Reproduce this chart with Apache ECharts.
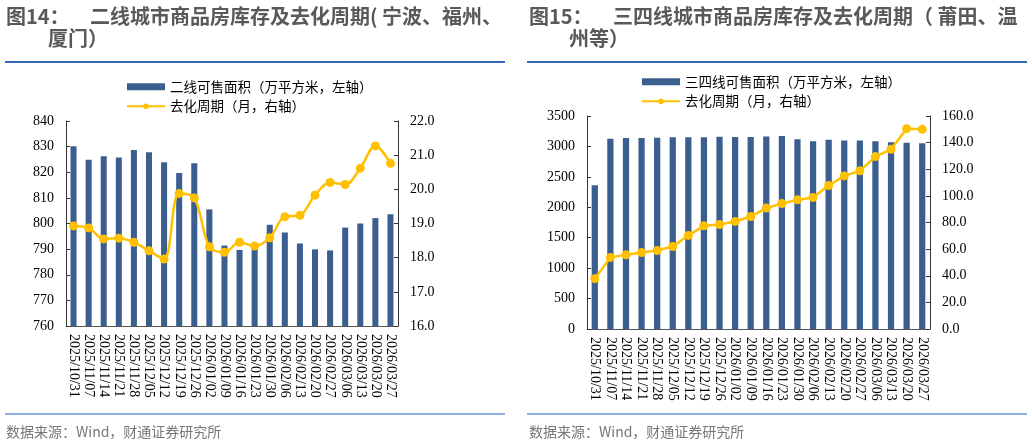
<!DOCTYPE html>
<html>
<head>
<meta charset="utf-8">
<script src="https://cdn.jsdelivr.net/npm/echarts@6/dist/echarts.min.js"></script>
<style>
  html, body { margin: 0; padding: 0; background: #fff; }
  #chart { width: 1032px; height: 444px; }
</style>
</head>
<body>
<div id="chart"></div>
<script>
const dates = [
  "2025/10/31", "2025/11/07", "2025/11/14", "2025/11/21", "2025/11/28", "2025/12/05",
  "2025/12/12", "2025/12/19", "2025/12/26", "2026/01/02", "2026/01/09", "2026/01/16",
  "2026/01/23", "2026/01/30", "2026/02/06", "2026/02/13", "2026/02/20", "2026/02/27",
  "2026/03/06", "2026/03/13", "2026/03/20", "2026/03/27"
];

// 二线城市
const secondArea = [
  830.1, 824.9, 826.2, 825.8, 828.7, 827.8, 823.9, 819.7, 823.5, 805.5, 791.4,
  789.7, 790.5, 799.5, 796.5, 792.2, 789.9, 789.5, 798.4, 800.0, 802.1, 803.6
];
const secondCycle = [
  18.93, 18.87, 18.55, 18.57, 18.45, 18.2, 17.96, 19.88, 19.75, 18.32, 18.16,
  18.45, 18.34, 18.58, 19.2, 19.24, 19.83, 20.2, 20.14, 20.62, 21.27, 20.76
];

// 三四线城市
const thirdArea = [
  2362, 3128, 3139, 3139, 3144, 3150, 3150, 3152, 3160, 3155, 3155,
  3165, 3171, 3120, 3087, 3108, 3097, 3097, 3084, 3068, 3062, 3051
];
const thirdCycle = [
  37.8, 53.8, 55.8, 57.5, 59.0, 62.0, 70.3, 77.5, 78.5, 80.8, 84.5,
  90.8, 94.3, 97.0, 98.8, 107.8, 115.0, 118.8, 129.5, 135.0, 150.5, 150.0
];

const secondBarName = "二线可售面积（万平方米，左轴）";
const thirdBarName = "三四线可售面积（万平方米，左轴）";
const cycleName = "去化周期（月，右轴）";

const barColor = "#3a5f8f";
const lineColor = "#ffc000";
const serif = "'Liberation Serif', 'Times New Roman', serif";
const sans = "'Noto Sans CJK SC', 'Noto Sans', sans-serif";

const chart = echarts.init(document.getElementById("chart"));

function titleText(text, x, y) {
  return {
    type: "text", x: x, y: y,
    style: { text: text, fill: "#595959", font: "bold 20px " + sans, textVerticalAlign: "middle" }
  };
}
function rule(x1, x2, y, color) {
  return {
    type: "line", shape: { x1: x1, y1: y, x2: x2, y2: y },
    style: { stroke: color, lineWidth: 2 }
  };
}
function source(x) {
  return {
    type: "text", x: x, y: 432,
    style: { text: "数据来源：Wind，财通证券研究所", fill: "#777", font: "14px " + sans, textVerticalAlign: "middle" }
  };
}

function xAxisFor(grid) {
  return {
    gridIndex: grid, type: "category", data: dates,
    axisLine: { lineStyle: { color: "#555" } },
    axisTick: { inside: true, length: 4, lineStyle: { color: "#999" } },
    axisLabel: {
      interval: 0, rotate: -90, margin: 8, color: "#000",
      fontFamily: serif, fontSize: 14
    }
  };
}
function yAxisFor(grid, pos, min, max, step, digits) {
  return {
    gridIndex: grid, type: "value", position: pos, min: min, max: max, interval: step,
    splitLine: { show: false },
    axisLine: { show: true, lineStyle: { color: "#333" } },
    axisTick: { show: true, inside: true, length: 4, lineStyle: { color: "#333" } },
    axisLabel: {
      margin: 12, color: "#000", fontFamily: serif, fontSize: 14,
      formatter: v => v.toFixed(digits)
    }
  };
}
function legendFor(left, top, barName) {
  return {
    orient: "vertical", left: left, top: top, padding: 0,
    itemWidth: 38, itemHeight: 7, itemGap: 6,
    selectedMode: false,
    textStyle: { fontSize: 13.5, color: "#000", fontFamily: sans },
    data: [{ name: barName, icon: "rect" }, { name: cycleName }]
  };
}
function barSeries(name, idx, data) {
  return {
    name: name, type: "bar", xAxisIndex: idx, yAxisIndex: idx * 2,
    data: data, barWidth: "40%", itemStyle: { color: barColor }
  };
}
function lineSeries(idx, data, smooth) {
  return {
    name: cycleName, type: "line", xAxisIndex: idx, yAxisIndex: idx * 2 + 1,
    data: data, smooth: smooth, symbol: "circle", symbolSize: 9, showAllSymbol: true,
    lineStyle: { color: lineColor, width: 2.5 }, itemStyle: { color: lineColor }, z: 5
  };
}

const option = {
  animation: false,
  graphic: [
    titleText("图14：", 6, 16),
    titleText("二线城市商品房库存及去化周期( 宁波、福州、", 90, 16),
    titleText("厦门）", 48, 38),
    rule(5, 505, 62, "#2f68b0"),
    rule(5, 505, 414, "#8fb3de"),
    source(6),
    titleText("图15：", 529, 16),
    titleText("三四线城市商品房库存及去化周期（ 莆田、温", 613, 16),
    titleText("州等）", 569, 38),
    rule(527, 1027, 62, "#2f68b0"),
    rule(527, 1027, 414, "#8fb3de"),
    source(529)
  ],
  legend: [
    legendFor(126, 80, secondBarName),
    legendFor(641, 75, thirdBarName)
  ],
  grid: [
    { left: 66, top: 121, width: 332, height: 205, outerBoundsMode: "none" },
    { left: 587, top: 116, width: 343, height: 213, outerBoundsMode: "none" }
  ],
  xAxis: [xAxisFor(0), xAxisFor(1)],
  yAxis: [
    yAxisFor(0, "left", 760, 840, 10, 0),
    yAxisFor(0, "right", 16, 22, 1, 1),
    yAxisFor(1, "left", 0, 3500, 500, 0),
    yAxisFor(1, "right", 0, 160, 20, 1)
  ],
  series: [
    barSeries(secondBarName, 0, secondArea),
    lineSeries(0, secondCycle, 0.35),
    barSeries(thirdBarName, 1, thirdArea),
    lineSeries(1, thirdCycle, false)
  ]
};

chart.setOption(option);
</script>
</body>
</html>
